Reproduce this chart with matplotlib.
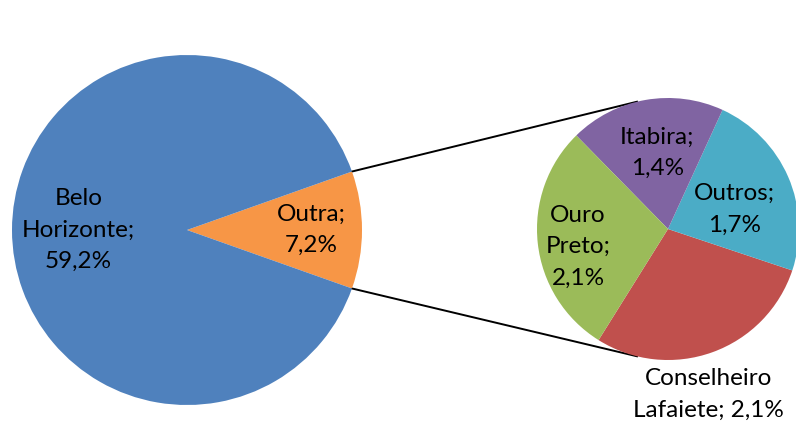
import numpy as np
import matplotlib.pyplot as plt

# main pie
main_labels = ['Outra', 'Belo\nHorizonte']
main_values = [7.2, 59.2]
main_colors = ['#F79646', '#4F81BD']

# secondary pie (breakdown of "Outra")
sub_labels = ['Conselheiro\nLafaiete', 'Outros', 'Itabira', 'Ouro\nPreto']
sub_values = [2.1, 1.7, 1.4, 2.1]
sub_colors = ['#C0504D', '#4BACC6', '#8064A2', '#9BBB59']

W, H = 796, 424
fig = plt.figure(figsize=(W / 100, H / 100), dpi=100)
ax = fig.add_axes([0, 0, 1, 1])

c1, r1 = (187, 194), 175
c2, r2 = (668, 195), 131

font = dict(family='Lato', fontsize=17.5, color='black', ha='center', va='center',
            linespacing=1.6)

# main pie, "Outra" centred on the right
frac = main_values[0] / sum(main_values)
w1, _ = ax.pie(main_values, colors=main_colors, center=c1, radius=r1,
               startangle=-frac * 180, counterclock=True, frame=True,
               wedgeprops=dict(linewidth=0))

main_dist = [0.71, 0.62]
for w, lab, val, d in zip(w1, main_labels, main_values, main_dist):
    a = np.deg2rad((w.theta1 + w.theta2) / 2)
    ax.text(c1[0] + d * r1 * np.cos(a), c1[1] + d * r1 * np.sin(a),
            f'{lab};\n{val:.1f}%'.replace('.', ','), **font)

# secondary pie
w2, _ = ax.pie(sub_values, colors=sub_colors, center=c2, radius=r2,
               startangle=-122, counterclock=True, frame=True,
               wedgeprops=dict(linewidth=0))

sub_dist = [1.30, 0.53, 0.59, 0.70]
sub_shift = [-6, -7, -2, 5]
for w, lab, val, d, s in zip(w2, sub_labels, sub_values, sub_dist, sub_shift):
    a = np.deg2rad((w.theta1 + w.theta2) / 2 + s)
    txt = f'{lab};\n{val:.1f}%'.replace('.', ',')
    if lab.startswith('Conselheiro'):
        txt = f'Conselheiro\nLafaiete; {val:.1f}%'.replace('.', ',')
    ax.text(c2[0] + d * r2 * np.cos(a), c2[1] + d * r2 * np.sin(a), txt, **font)

# connector lines
ow = w1[0]
for th_main, th_sub in [(ow.theta2, 103.7), (ow.theta1, -103.7)]:
    a, b = np.deg2rad(th_main), np.deg2rad(th_sub)
    ax.plot([c1[0] + r1 * np.cos(a), c2[0] + r2 * np.cos(b)],
            [c1[1] + r1 * np.sin(a), c2[1] + r2 * np.sin(b)],
            color='black', linewidth=1.4, zorder=0)

ax.set_xlim(0, W)
ax.set_ylim(0, H)
ax.set_aspect('equal')
ax.axis('off')

fig.savefig('out.png', dpi=100, facecolor='white')
